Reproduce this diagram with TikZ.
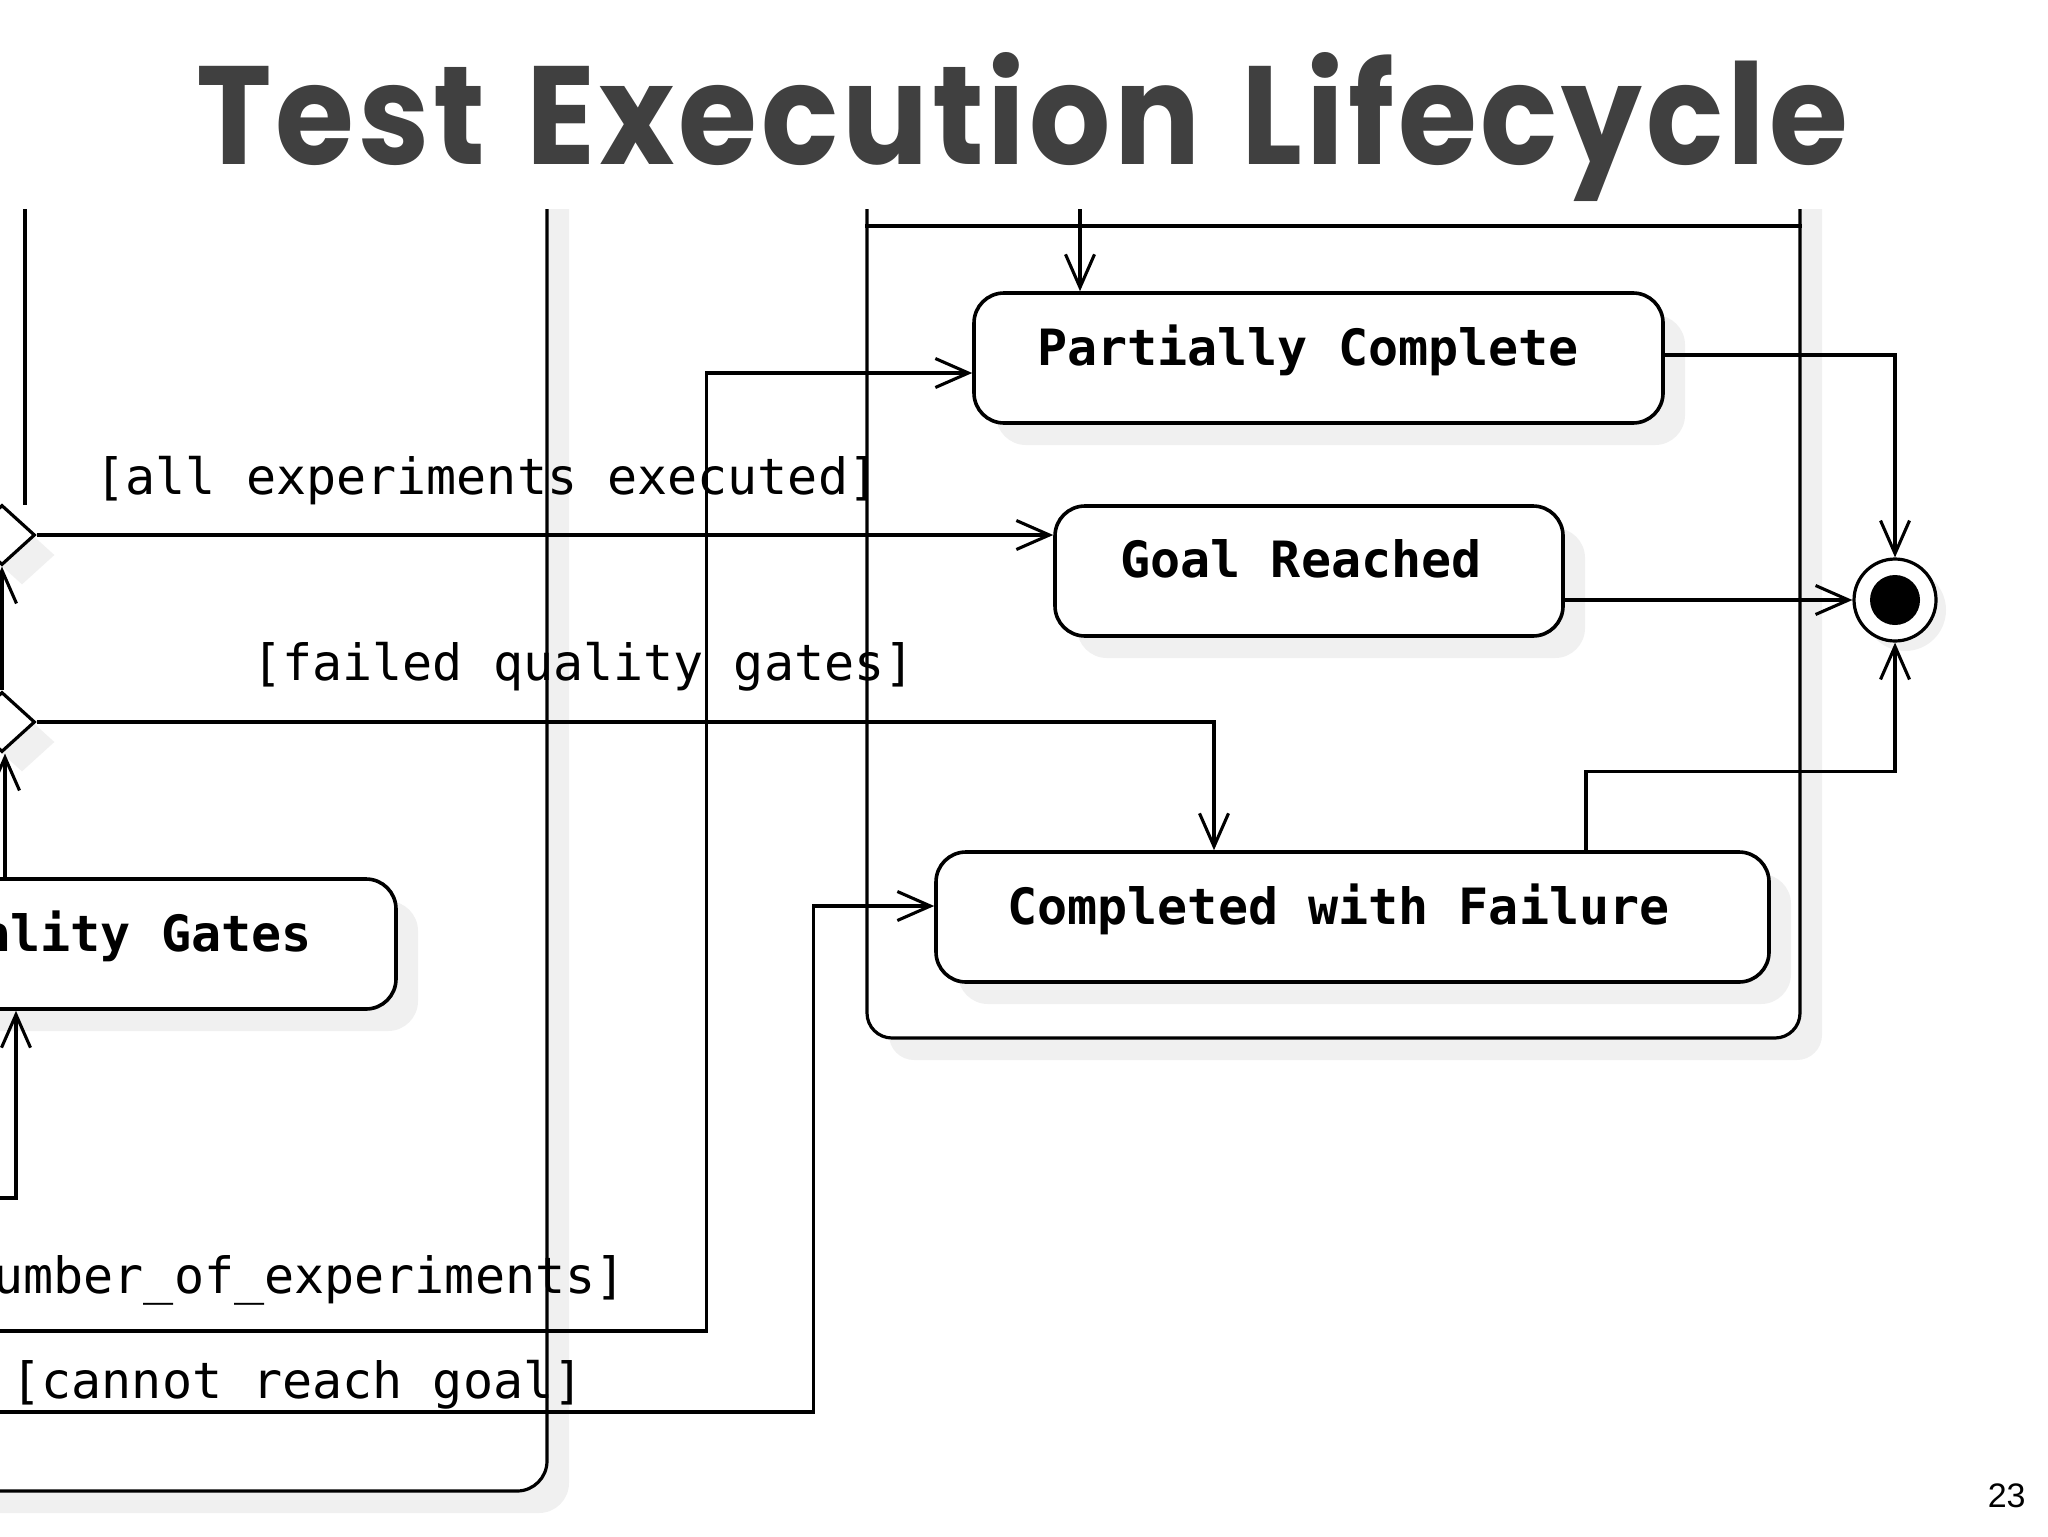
\documentclass[tikz,border=0pt]{standalone}
\usepackage{fontspec}
\usepackage{graphicx}
\usetikzlibrary{arrows.meta,shapes.geometric,shadows,calc}
\newfontfamily\titlefont{Poppins}[LetterSpace=3]
\newfontfamily\umlfont{DejaVu Sans Mono}
\newfontfamily\pagefont{Liberation Sans}
\definecolor{titlegray}{HTML}{404040}
\begin{document}
\begin{tikzpicture}[x=0.5pt,y=-0.5pt,
  shad/.style={drop shadow={shadow xshift=11pt,shadow yshift=-11pt,fill=black!6,draw=none,opacity=1}},
  statebox/.style={draw, line width=1.8pt, rounded corners=15pt, fill=white, inner sep=0pt, shad},
  lanebox/.style={draw, line width=1.6pt, fill=white, inner sep=0pt, shad},
  choice/.style={draw, shape=diamond, line width=1.6pt, fill=white, inner sep=0pt, minimum width=33pt, minimum height=30pt,
    drop shadow={shadow xshift=10pt,shadow yshift=-10pt,fill=black!6,draw=none,opacity=1}},
  conn/.style={line width=1.55pt, -{Straight Barb[length=16.5pt,width=14.5pt]}},
  plainline/.style={line width=1.55pt},
  nametext/.style={font=\umlfont\bfseries\fontsize{25pt}{30pt}\selectfont, inner sep=0pt, anchor=base},
  guard/.style={font=\umlfont\fontsize{25pt}{30pt}\selectfont, inner sep=0pt, anchor=base},
]
\useasboundingbox (0,0) rectangle (2048,1536);

% title
\node[anchor=base west, inner sep=0pt, text=titlegray] (title) at (196,164)
  {\resizebox{825.5pt}{56pt}{\titlefont\bfseries Test\hspace{0.08em} Execution\hspace{0.08em} Lifecycle}};

\begin{scope}
\clip (0,209) rectangle (2048,1536);

% composite states
\node[lanebox, rounded corners=15pt, minimum width=423.5pt, minimum height=695.5pt] (leftcomp) at (123.5,795.5) {};
\node[lanebox, rounded corners=12.5pt, minimum width=466.5pt, minimum height=469pt] (rightcomp) at (1333.5,569) {};
\draw[plainline] (rightcomp.west |- 0,226) -- (rightcomp.east |- 0,226);

% states
\node[statebox, minimum width=344.5pt, minimum height=65pt] (pc) at (1318.5,358) {};
\node[statebox, minimum width=254pt, minimum height=65pt] (gr) at (1309,571) {};
\node[statebox, minimum width=416.5pt, minimum height=65pt] (cwf) at (1352.5,917) {};
\node[statebox, minimum width=298pt, minimum height=65pt] (qg) at (98,944) {};

\node[nametext] (pct) at (1308,365) {Partially Complete};
\node[nametext] (grt) at (1301,577) {Goal Reached};
\node[nametext] (cwft) at (1338.5,924) {Completed with Failure};
\node[nametext, anchor=base east] (qgt) at (312,951) {Quality Gates};

% choices
\node[choice] (d1) at (2,535) {};
\node[choice] (d2) at (2,722) {};

% final state
\node[draw, circle, line width=1.6pt, minimum size=41pt, inner sep=0pt, fill=white,
  drop shadow={shadow xshift=5pt,shadow yshift=-5pt,fill=black!6,draw=none,opacity=1}] (fin) at (1895,600) {};
\fill (fin.center) circle[radius=12.5pt];

% guards
\node[guard] (g1) at (487,494) {[all experiments executed]};
\node[guard] (g2) at (583.5,680) {[failed quality gates]};
\node[guard, anchor=base east] (g3) at (626,1293) {number\_of\_experiments]};
\node[guard] (g4) at (297.5,1398) {[cannot reach goal]};

% free ends
\coordinate (topA) at (25,200);
\coordinate (endA) at (25,505);
\coordinate (topB) at (1080,200);
\coordinate (inQG) at (-20,1198);
\coordinate (inPC) at (-20,1331);
\coordinate (inCF) at (-20,1412);

% connectors
\draw[plainline] (topA) -- (endA);
\draw[conn] (topB) -- (topB |- pc.north);
\draw[conn] (d2.north) -- (d1.south);
\draw[conn] (qg.north -| 5,0) -- (d2.south -| 5,0);
\draw[conn] (inQG) -| (qg.south -| 16,0);
\draw[conn] (d1.east) -- (d1.east -| gr.west);
\draw[conn] (d2.east) -| ($(cwf.north)+(-138.5,0)$);
\draw[conn] (inPC) -| ($(pc.west)+(-266,15)$) -- ($(pc.west)+(0,15)$);
\draw[conn] (inCF) -| ($(cwf.west)+(-121,-11)$) -- ($(cwf.west)+(0,-11)$);
\draw[conn] ($(pc.east)+(0,-3)$) -| (fin.north);
\draw[conn] ($(gr.east)+(0,29)$) -- (fin.west);
\draw[conn] ($(cwf.north)+(233.5,0)$) |- ($(fin.south)+(0,129)$) -- (fin.south);
\end{scope}

% page number
\node[anchor=base east, inner sep=0pt, font=\pagefont\fontsize{17pt}{20pt}\selectfont] (pg) at (2026,1507) {23};
\end{tikzpicture}
\end{document}
